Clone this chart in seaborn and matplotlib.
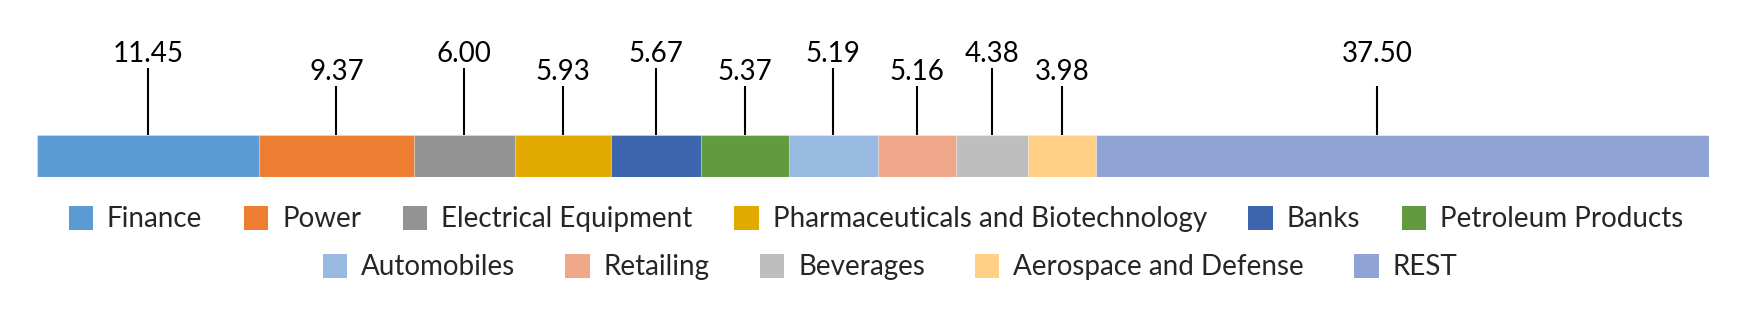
import matplotlib
matplotlib.use("Agg")
import matplotlib.pyplot as plt
import matplotlib.patches as mpatches
import seaborn as sns
import pandas as pd
import numpy as np

# ---- data ----
sectors = ["Finance", "Power", "Electrical Equipment", "Pharmaceuticals and Biotechnology",
           "Banks", "Petroleum Products", "Automobiles", "Retailing", "Beverages",
           "Aerospace and Defense", "REST"]
segment_widths = [13.31, 9.23, 6.08, 5.72, 5.40, 5.23, 5.34, 4.67, 4.31, 4.07, 36.64]
value_labels = ["11.45", "9.37", "6.00", "5.93", "5.67", "5.37", "5.19", "5.16", "4.38", "3.98", "37.50"]
colors = ["#5B9BD5", "#ED7D31", "#939393", "#E2AA00", "#3C65AD", "#629B3F",
          "#98B9E0", "#F0A789", "#BEBEBE", "#FFD086", "#8FA3D4"]

# ---- style ----
sns.set_style("white")
plt.rcParams["font.family"] = ["Lato", "DejaVu Sans"]
FS = 20

W, H, DPI = 1738, 325, 100
fig = plt.figure(figsize=(W / DPI, H / DPI), dpi=DPI)

bar_left, bar_right = 36.7, 1708.7
bar_top, bar_bottom = 135.3, 177.3
ax = fig.add_axes([bar_left / W, 1 - bar_bottom / H, (bar_right - bar_left) / W, (bar_bottom - bar_top) / H])

cum = np.cumsum(segment_widths)
for i in range(len(sectors) - 1, -1, -1):
    df = pd.DataFrame({"value": [cum[i]], "row": ["all"]})
    sns.barplot(data=df, x="value", y="row", orient="h", color=colors[i], width=1.0,
                saturation=1, ax=ax, edgecolor=(1, 1, 1, 0.45), linewidth=0.8)

ax.set_xlim(0, cum[-1])
ax.set_ylim(0.5, -0.5)
ax.axis("off")

def yfrac(ypix):
    return (bar_bottom - ypix) / (bar_bottom - bar_top)

px_per_unit = (bar_right - bar_left) / cum[-1]
text_high, text_low = 62.3, 80.0
lead_high, lead_low = 68.3, 86.0
text_pos = [text_high, text_low] * 5 + [text_high]
lead_pos = [lead_high, lead_low] * 5 + [lead_low]
label_shift_px = [0] * 10 + [-25]
tr = ax.get_xaxis_transform()
starts = np.concatenate([[0], cum[:-1]])
for s, w, lab, tp, lp, sh in zip(starts, segment_widths, value_labels, text_pos, lead_pos, label_shift_px):
    cx = s + w / 2 + sh / px_per_unit
    ax.plot([cx, cx], [yfrac(lp), 1.0], transform=tr, color="black", lw=1.5,
            clip_on=False, solid_capstyle="butt")
    ax.text(cx, yfrac(tp), lab, transform=tr, ha="center", va="baseline",
            fontsize=FS, color="black", clip_on=False)

handles = [mpatches.Patch(facecolor=c, edgecolor="none", label=s) for s, c in zip(sectors, colors)]
common = dict(frameon=False, fontsize=FS, handlelength=0.88, handleheight=0.95,
              handletextpad=0.5, borderpad=0, borderaxespad=0, loc="center")
leg1 = fig.legend(handles=handles[:6], ncol=6, columnspacing=1.5,
                  bbox_to_anchor=(876 / W, 1 - 219 / H), **common)
leg2 = fig.legend(handles=handles[6:], ncol=5, columnspacing=1.8,
                  bbox_to_anchor=(890 / W, 1 - 267 / H), **common)

fig.savefig("out.png", dpi=DPI)
